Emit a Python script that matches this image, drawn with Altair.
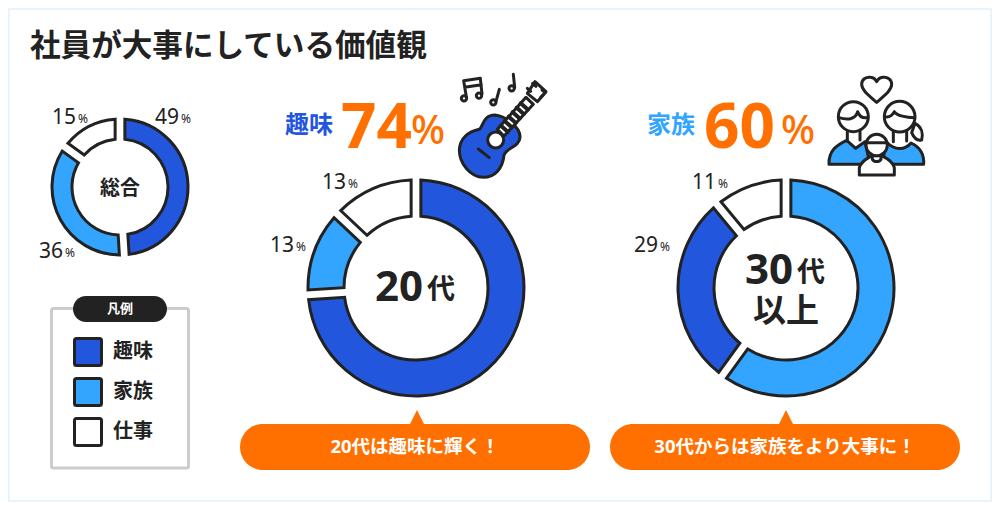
import altair as alt
import pandas as pd

# ---- data ----
CATS = ["趣味", "家族", "仕事"]
COLORS = ["#2257dd", "#33a5ff", "#ffffff"]
TOTAL_CATS = ["趣味", "家族", "仕事"]
TOTAL_VALS = [49, 36, 15]
D20_CATS = ["趣味", "家族", "仕事"]
D20_VALS = [74, 13, 13]
D30_CATS = ["家族", "趣味", "仕事"]
D30_VALS = [60, 29, 11]

DARK = "#222222"
ORANGE = "#ff7000"
FONT = "Noto Sans, Noto Sans CJK JP"
O = 8  # page margin


def X(v):
    return alt.value(v - O)


one = alt.Data(values=[{"a": 1}])
layers = []


def rect(x0, x1, y0, y1, fill, stroke=None, sw=0, cr=0):
    kw = dict(fill=fill, cornerRadius=cr)
    if stroke:
        kw.update(stroke=stroke, strokeWidth=sw)
    layers.append(alt.Chart(one).mark_rect(**kw).encode(x=X(x0), x2=X(x1), y=X(y0), y2=X(y1)))


def txt(s, x, y, size, color=DARK, weight="bold", align="left"):
    layers.append(
        alt.Chart(one)
        .mark_text(font=FONT, fontSize=size, fontWeight=weight, color=color, align=align, baseline="middle")
        .encode(x=X(x), y=X(y + 1), text=alt.value(s))
    )


def icon(path, ox, oy, fill=None, sw=3):
    # path coordinates are in 1/3 px relative to (ox, oy)
    kw = dict(shape=path, opacity=1, stroke=DARK, strokeWidth=sw, strokeJoin="round", strokeCap="round")
    if fill:
        kw.update(filled=True, fill=fill)
    else:
        kw.update(filled=False, fill="transparent")
    layers.append(alt.Chart(one).mark_point(**kw).encode(x=X(ox), y=X(oy), size=alt.value(4 / 9)))


def circ(cx, cy, r):
    k = 0.5523 * r
    return (
        f"M{cx-r} {cy}C{cx-r} {cy-k} {cx-k} {cy-r} {cx} {cy-r}"
        f"C{cx+k} {cy-r} {cx+r} {cy-k} {cx+r} {cy}"
        f"C{cx+r} {cy+k} {cx+k} {cy+r} {cx} {cy+r}"
        f"C{cx-k} {cy+r} {cx-r} {cy+k} {cx-r} {cy}Z"
    )


def donut(cats, vals, cx, cy, r0, r1, pad):
    df = pd.DataFrame({"c": cats, "v": vals, "i": range(len(vals))})
    layers.append(
        alt.Chart(df)
        .mark_arc(innerRadius=r0, outerRadius=r1, padAngle=pad, stroke=DARK, strokeWidth=3, strokeJoin="miter")
        .encode(
            x=X(cx),
            y=X(cy),
            theta=alt.Theta("v:Q", stack=True, scale=alt.Scale(domain=[0, 100])),
            color=alt.Color("c:N", legend=None, scale=alt.Scale(domain=CATS, range=COLORS)),
            order=alt.Order("i:Q"),
        )
    )


def pct(v, x, y):
    txt(str(v), x, y, 21, weight="normal")
    txt("%", x + 26, y + 1, 12, weight="normal")


# panel
rect(10, 990, 10, 500, "#ffffff")
txt("社員が大事にしている価値観", 30, 46, 30.6)

# donuts
donut(TOTAL_CATS, TOTAL_VALS, 120, 187, 48, 68, 0.117)
donut(D20_CATS, D20_VALS, 416, 288, 72, 108, 0.075)
donut(D30_CATS, D30_VALS, 786, 288, 72, 108, 0.075)

txt("総合", 120, 188, 20, align="center")
pct(TOTAL_VALS[0], 155, 117)
pct(TOTAL_VALS[1], 39, 251)
pct(TOTAL_VALS[2], 52, 117)

txt("20", 375, 287, 42)
txt("代", 427, 290, 28)
pct(D20_VALS[1], 270, 245)
pct(D20_VALS[2], 322, 182)

txt("30", 745, 270, 42)
txt("代", 797, 273, 28)
txt("以上", 786, 311, 33, align="center")
pct(D30_VALS[1], 634, 245)
pct(D30_VALS[2], 692, 182)

# headlines
txt("趣味", 285, 125, 24, color=COLORS[0])
txt(str(D20_VALS[0]), 341, 128, 62, color=ORANGE)
txt("%", 411, 131, 40, color=ORANGE, weight=500)
txt("家族", 647, 125, 24, color=COLORS[1])
txt(str(D30_VALS[0]), 704, 128, 62, color=ORANGE)
txt("%", 781, 131, 40, color=ORANGE, weight=500)

# legend
rect(51.5, 188.5, 308.5, 468, "#ffffff", "#cccccc", 3, 2)
rect(73, 167, 296, 322, DARK, cr=13)
txt("凡例", 120, 308, 13, color="#ffffff", align="center")
for c, col, y in zip(CATS, COLORS, [352, 392, 432]):
    rect(74.5, 101.5, y - 13.5, y + 13.5, col, DARK, 3, 2)
    txt(c, 113, y - 1, 20)

# callouts
for cx, x0, x1, s in [
    (417, 240, 590, "20代は趣味に輝く！"),
    (786, 610, 960, "30代からは家族をより大事に！"),
]:
    rect(x0, x1, 424, 470, ORANGE, cr=23)
    layers.append(
        alt.Chart(one)
        .mark_point(shape="M0 -1L1 1L-1 1Z", filled=True, fill=ORANGE, stroke=ORANGE, strokeWidth=0, opacity=1)
        .encode(x=X(cx), y=X(417), size=alt.value(196))
    )
    txt(s, (x0 + x1) / 2, 446, 18.5, color="#ffffff", align="center")

# guitar icon
gx, gy = 440, 60
icon("M118 208C130 200 128 165 165 165C195 168 242 200 240 232C238 262 200 262 192 285"
     "C188 325 165 352 130 352C90 350 58 310 58 270C60 235 85 215 118 208Z", gx, gy, COLORS[0])
icon("M115 267L148 293", gx, gy)
icon("M172 208L258 112L280 133L192 228Z", gx, gy, "#ffffff")
frets = "".join(
    f"M{182 + .667*t - .745*14:.1f} {218 - .745*t - .667*14:.1f}L{182 + .667*t + .745*14:.1f} {218 - .745*t + .667*14:.1f}"
    for t in [16, 34, 52, 70, 88, 106]
)
icon(frets, gx, gy, sw=4)
icon("M262 100L285 65L318 95L292 125Z", gx, gy, "#ffffff")
icon("M262 85L272 94M278 70L288 79M302 112L311 103M316 98L306 90", gx, gy)
icon(circ(167, 240, 24), gx, gy, "#ffffff")
# notes
icon(circ(72, 115, 8) + circ(117, 107, 8), gx, gy)
icon("M79 110L71 62L121 55L126 102M74 82L124 74", gx, gy)
icon(circ(160, 127, 8) + circ(215, 85, 8), gx, gy)
icon("M168 124L178 88M224 82L220 43", gx, gy)

# family icon
fx, fy = 815, 65
icon("M185 112C160 90 140 75 140 58C140 42 155 35 167 37C175 38 182 44 185 50"
     "C188 44 195 38 203 37C217 35 230 43 230 58C230 75 210 90 185 112Z", fx, fy, "#ffffff")
icon("M42 298C40 258 65 240 95 226L122 250L150 230L165 298Z", fx, fy, COLORS[1])
icon("M215 232C240 258 270 255 288 234C312 245 328 265 326 298L200 298Z", fx, fy, COLORS[1])
icon("M300 175C320 185 325 205 320 225C305 228 295 215 290 203Z", fx, fy, "#ffffff")
icon(circ(115, 155, 45), fx, fy, "#ffffff")
icon(circ(254, 155, 46), fx, fy, "#ffffff")
icon("M72 158C95 165 122 165 128 140C133 155 145 160 158 158M210 155C222 158 232 150 238 140"
     "C245 152 275 158 298 158M97 200L97 228M135 195L135 225M235 200L235 230M275 198L275 228", fx, fy)
icon("M133 330L133 308C140 285 160 280 170 272L200 272C215 280 232 288 238 308L238 330Z", fx, fy, "#ffffff")
icon(circ(185, 240, 32), fx, fy, "#ffffff")
icon("M154 233L216 233M172 272L172 283C178 292 192 292 198 283L198 272", fx, fy)

chart = (
    alt.layer(*layers)
    .resolve_scale(color="shared", theta="shared")
    .properties(
        width=984,
        height=494,
        padding=0,
        autosize=alt.AutoSizeParams(type="none"),
        background="#e8f4fd",
    )
    .configure_view(stroke=None)
)
chart.save("out.html", embed_options={"renderer": "svg", "actions": False})
